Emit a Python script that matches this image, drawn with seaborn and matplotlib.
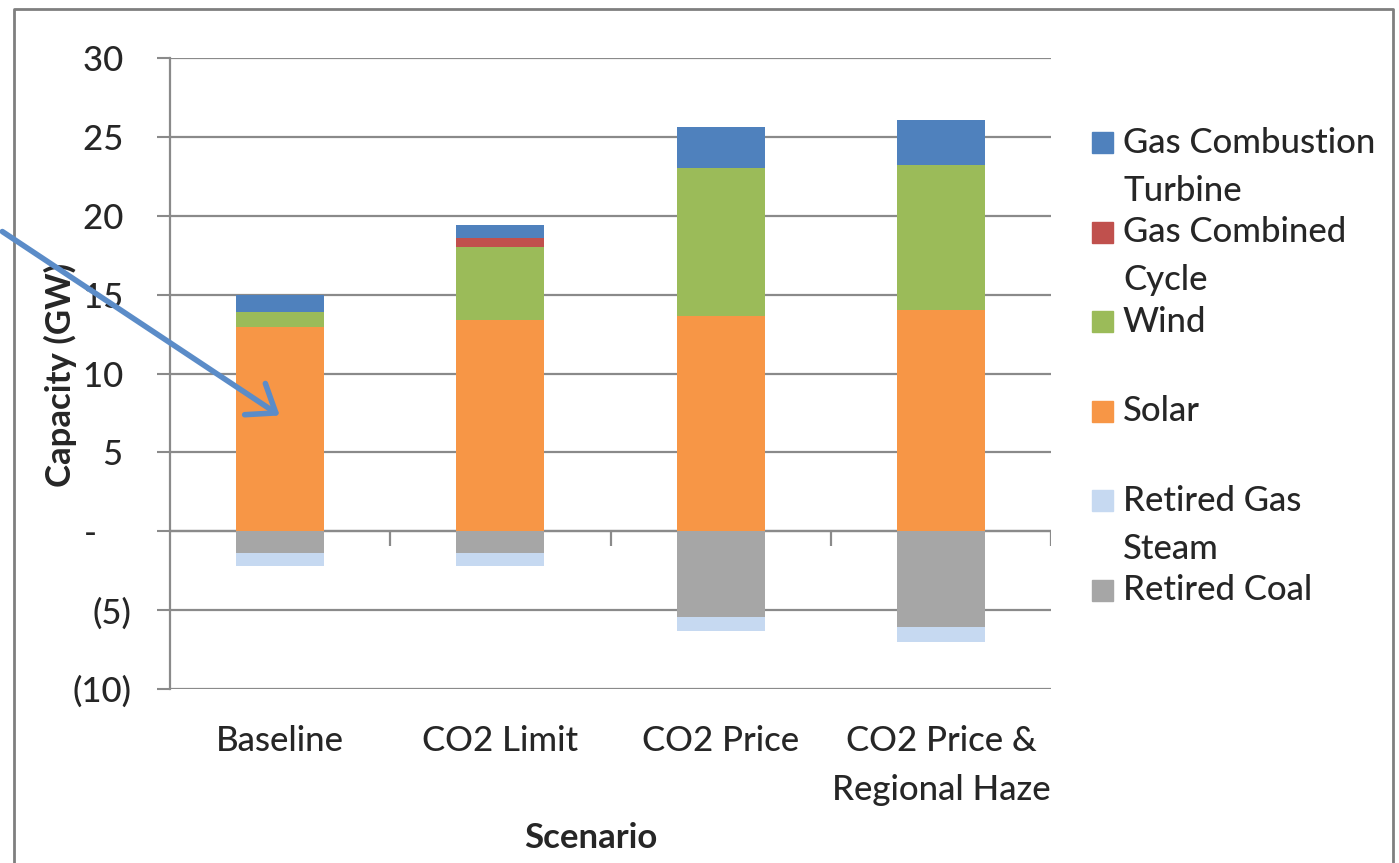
import matplotlib
matplotlib.use('Agg')
import matplotlib.pyplot as plt
from matplotlib.lines import Line2D
from matplotlib.patches import Rectangle, FancyArrowPatch
from matplotlib.ticker import FuncFormatter
import seaborn as sns
import pandas as pd
import numpy as np

# data (GW)
scenarios = ["Baseline", "CO2 Limit", "CO2 Price", "CO2 Price &\nRegional Haze"]
solar = [12.95, 13.4, 13.65, 14.0]
wind = [0.95, 4.6, 9.4, 9.2]
gas_combined_cycle = [0.0, 0.6, 0.0, 0.0]
gas_combustion_turbine = [1.1, 0.8, 2.55, 2.9]
retired_coal = [-1.4, -1.4, -5.45, -6.1]
retired_gas_steam = [-0.8, -0.8, -0.9, -0.9]

colors = {
    "Gas Combustion Turbine": "#4f81bd",
    "Gas Combined Cycle": "#c0504d",
    "Wind": "#9bbb59",
    "Solar": "#f79646",
    "Retired Gas Steam": "#c6d9f1",
    "Retired Coal": "#a6a6a6",
}
legend_labels = ["Gas Combustion\nTurbine", "Gas Combined\nCycle", "Wind",
                 "Solar", "Retired Gas\nSteam", "Retired Coal"]

sns.set_style("white")
plt.rcParams['font.family'] = ['Lato', 'DejaVu Sans']
plt.rcParams['font.weight'] = 'medium'
FS = 25
GRID = "#8a8a8a"

df = pd.DataFrame({
    "Scenario": scenarios,
    "Solar": solar,
    "Wind": wind,
    "Gas Combined Cycle": gas_combined_cycle,
    "Gas Combustion Turbine": gas_combustion_turbine,
    "Retired Coal": retired_coal,
    "Retired Gas Steam": retired_gas_steam,
})

# cumulative stacks; tallest drawn first so the lower layers cover it
pos_order = ["Solar", "Wind", "Gas Combined Cycle", "Gas Combustion Turbine"]
neg_order = ["Retired Coal", "Retired Gas Steam"]
pos_cum = df[pos_order].cumsum(axis=1)
neg_cum = df[neg_order].cumsum(axis=1)

fig = plt.figure(figsize=(13.99, 8.63), dpi=100)
ax = fig.add_axes([0.1215, 0.2016, 0.6298, 0.7312])

for name in reversed(pos_order):
    sns.barplot(x=df["Scenario"], y=pos_cum[name], color=colors[name],
                saturation=1, width=0.4, linewidth=0, ax=ax, zorder=3)
for name in reversed(neg_order):
    sns.barplot(x=df["Scenario"], y=neg_cum[name], color=colors[name],
                saturation=1, width=0.4, linewidth=0, ax=ax, zorder=3)

ax.set_xlim(-0.5, len(scenarios) - 0.5)
ax.set_ylim(-10, 30)
ax.set_yticks(np.arange(-10, 31, 5))


def acct(v, pos):
    if v == 0:
        return "-    "
    if v < 0:
        return f"({-v:g})"
    return f"{v:g} "


ax.yaxis.set_major_formatter(FuncFormatter(acct))
ax.set_xticks(range(len(scenarios)))
ax.set_xticklabels(scenarios, linespacing=1.65)
ax.set_xlabel("")
ax.set_ylabel("")
ax.tick_params(axis='y', length=9.5, width=1.5, color=GRID, direction='out',
               pad=18, labelsize=FS, left=True)
ax.tick_params(axis='x', length=0, pad=26, labelsize=FS)

ax.set_axisbelow(True)
ax.yaxis.grid(True, color=GRID, linewidth=1.6)
for s in ["top", "right", "bottom"]:
    ax.spines[s].set_visible(False)
ax.spines["left"].set_color(GRID)
ax.spines["left"].set_linewidth(1.6)

# zero line with category divider ticks
ax.axhline(0, color=GRID, linewidth=1.6, zorder=2)
bounds = np.arange(len(scenarios)) + 0.5
ax.vlines(bounds, 0.226, 0.25, transform=ax.get_xaxis_transform(),
          color=GRID, linewidth=1.6)

fig.text(60 / 1399, 1 - 375 / 863, "Capacity (GW)", rotation=90, ha='center',
         va='center', fontsize=FS, fontweight='bold')
fig.text(591 / 1399, 1 - 838 / 863, "Scenario", ha='center', va='center',
         fontsize=FS, fontweight='bold')

# legend, marker aligned with the first line of each label
W, H = 1399, 863
for i, (name, label) in enumerate(zip(colors.keys(), legend_labels)):
    yc = 143 + i * 89.4
    fig.add_artist(Rectangle((1092 / W, 1 - (yc + 10.5) / H), 21 / W, 21 / H,
                             transform=fig.transFigure, color=colors[name]))
    for j, line in enumerate(label.split("\n")):
        fig.text(1123 / W, 1 - (yc + j * 48) / H, line, ha='left',
                 va='center', fontsize=FS)

# outer frame
fig.add_artist(Line2D([14 / W, 14 / W, 1393 / W, 1393 / W],
                      [-0.01, 1 - 9 / H, 1 - 9 / H, -0.01],
                      transform=fig.transFigure, color="#7f7f7f", linewidth=2))

# call-out arrow
fig.add_artist(FancyArrowPatch((0, 1 - 230 / H), (282 / W, 1 - 417 / H),
                               transform=fig.transFigure,
                               arrowstyle='->,head_length=0.6,head_width=0.45',
                               mutation_scale=30, linewidth=4,
                               color="#5b8cc8", zorder=10))

fig.savefig("out.png", dpi=100)
